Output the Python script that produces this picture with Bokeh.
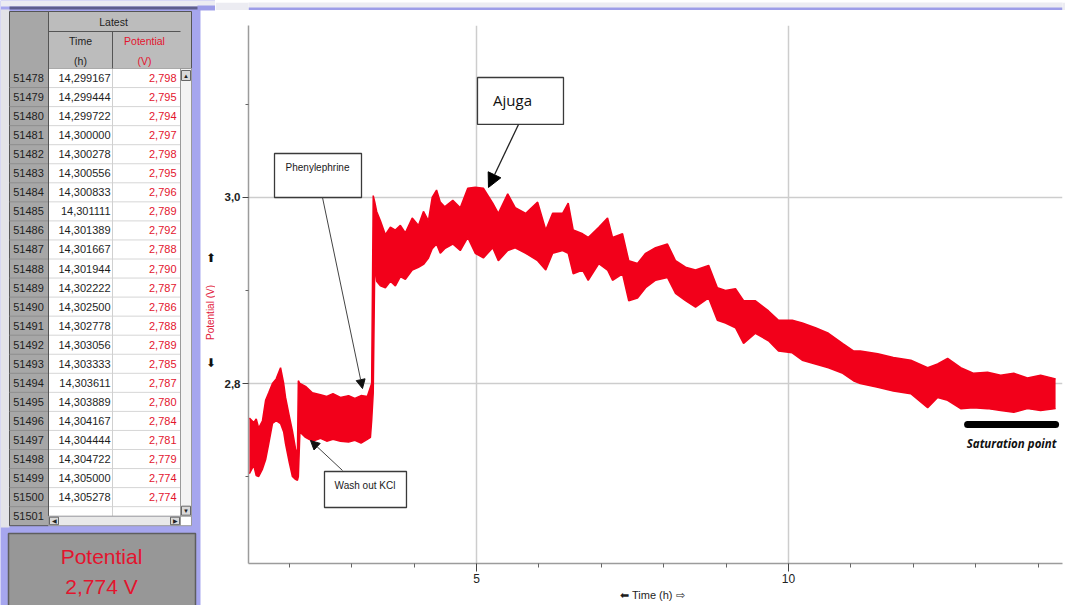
import math
from bokeh.plotting import figure
from bokeh.layouts import row, column
from bokeh.models import (Range1d, FixedTicker, Arrow, NormalHead,
                          ColumnDataSource, CustomJSTickFormatter)
from bokeh.core.properties import value
from bokeh.embed import file_html
from bokeh.resources import INLINE

# ---------------- data ----------------
# recorded potential trace: time (h), upper and lower envelope of the noisy signal (V)
time_h = [1.36, 1.43, 1.47, 1.51, 1.57, 1.62, 1.67, 1.73, 1.79, 1.86, 1.91, 1.94, 2.00,
          2.05, 2.10, 2.13, 2.145, 2.17, 2.26, 2.37, 2.50, 2.60, 2.70, 2.82, 2.95, 3.05,
          3.15, 3.25, 3.30, 3.32, 3.345, 3.37, 3.40, 3.46, 3.54, 3.62, 3.70, 3.78, 3.86,
          3.97, 4.07, 4.15, 4.23, 4.29, 4.36, 4.42, 4.49, 4.62, 4.74, 4.86, 4.98, 5.11,
          5.26, 5.35, 5.50, 5.62, 5.79, 5.98, 6.11, 6.22, 6.38, 6.47, 6.55, 6.70, 6.79,
          6.96, 7.10, 7.18, 7.34, 7.44, 7.58, 7.71, 7.87, 8.06, 8.19, 8.35, 8.51, 8.72,
          8.86, 8.99, 9.15, 9.28, 9.47, 9.68, 9.84, 10.06, 10.22, 10.43, 10.64, 10.87,
          11.04, 11.15, 11.43, 11.68, 11.96, 12.23, 12.39, 12.55, 12.76, 12.96, 13.19,
          13.40, 13.61, 13.83, 14.04, 14.28]
potential_hi = [2.763, 2.758, 2.762, 2.752, 2.760, 2.782, 2.790, 2.800, 2.805, 2.817, 2.800,
                2.785, 2.765, 2.749, 2.730, 2.722, 2.803, 2.800, 2.797, 2.790, 2.788, 2.786,
                2.789, 2.785, 2.787, 2.784, 2.787, 2.786, 2.796, 2.800, 3.002, 2.995, 2.985,
                2.975, 2.960, 2.968, 2.965, 2.970, 2.962, 2.978, 2.970, 2.985, 2.975, 3.000,
                3.008, 2.995, 2.990, 2.997, 2.989, 3.010, 3.011, 3.010, 2.994, 2.983, 3.004,
                2.989, 2.983, 2.995, 2.965, 2.983, 2.983, 2.994, 2.965, 2.961, 2.957, 2.968,
                2.978, 2.957, 2.961, 2.932, 2.929, 2.940, 2.946, 2.950, 2.932, 2.925, 2.922,
                2.927, 2.903, 2.900, 2.902, 2.889, 2.889, 2.878, 2.868, 2.868, 2.865, 2.860,
                2.854, 2.843, 2.835, 2.835, 2.832, 2.828, 2.825, 2.817, 2.821, 2.827, 2.817,
                2.811, 2.812, 2.809, 2.811, 2.806, 2.809, 2.805]
potential_lo = [2.703, 2.712, 2.701, 2.700, 2.708, 2.718, 2.735, 2.757, 2.760, 2.757, 2.748,
                2.735, 2.715, 2.700, 2.697, 2.696, 2.700, 2.748, 2.742, 2.738, 2.741, 2.738,
                2.740, 2.738, 2.737, 2.739, 2.736, 2.740, 2.742, 2.760, 2.790, 2.930, 2.910,
                2.905, 2.903, 2.910, 2.905, 2.915, 2.912, 2.922, 2.925, 2.928, 2.935, 2.945,
                2.950, 2.940, 2.945, 2.950, 2.943, 2.957, 2.940, 2.935, 2.946, 2.932, 2.943,
                2.946, 2.940, 2.932, 2.922, 2.940, 2.943, 2.940, 2.918, 2.922, 2.911, 2.929,
                2.922, 2.911, 2.918, 2.889, 2.892, 2.903, 2.911, 2.914, 2.897, 2.889, 2.882,
                2.892, 2.868, 2.865, 2.860, 2.843, 2.854, 2.846, 2.835, 2.833, 2.825, 2.821,
                2.817, 2.811, 2.803, 2.800, 2.796, 2.792, 2.789, 2.774, 2.785, 2.782, 2.773,
                2.774, 2.773, 2.771, 2.769, 2.773, 2.771, 2.773]

x_major_ticks = [5, 10]
x_minor_ticks = [2, 3, 4, 6, 7, 8, 9, 11, 12, 13, 14]
y_major_ticks = [2.8, 3.0]
y_minor_ticks = [2.7, 2.9, 3.1]

# "Latest" data table
row_ids = list(range(51478, 51502))
table_time = [14.299167, 14.299444, 14.299722, 14.300000, 14.300278, 14.300556, 14.300833,
              14.301111, 14.301389, 14.301667, 14.301944, 14.302222, 14.302500, 14.302778,
              14.303056, 14.303333, 14.303611, 14.303889, 14.304167, 14.304444, 14.304722,
              14.305000, 14.305278]
table_potential = [2.798, 2.795, 2.794, 2.797, 2.798, 2.795, 2.796, 2.789, 2.792, 2.788,
                   2.790, 2.787, 2.786, 2.788, 2.789, 2.785, 2.787, 2.780, 2.784, 2.781,
                   2.779, 2.774, 2.774]
current_potential = 2.774

notes = ["Phenylephrine", "Wash out KCl", "Ajuga"]
y_title = "Potential (V)"
saturation_span = [12.87, 14.28]
saturation_level = 2.756

RED = "#f2001a"
TXT_RED = "#e3142e"
FONT = "Liberation Sans"
LW = 215  # width of the left panel figure (table + y-axis title column)

# ---------------- left panel (table + meter + y title) ----------------
L = figure(width=LW, height=605, x_range=Range1d(0, LW), y_range=Range1d(605, 0),
           x_axis_location=None, y_axis_location=None, output_backend="svg",
           toolbar_location=None, min_border=0)
L.grid.visible = False
L.outline_line_color = None
L.background_fill_color = "#a6a6ee"
L.border_fill_color = "#a6a6ee"

L.quad(left=0, right=LW, top=0, bottom=6, fill_color="#ececf2", line_color=None)
L.quad(left=9, right=200, top=6, bottom=9, fill_color="#5e5e8c", line_color=None)
L.quad(left=197, right=LW, top=5, bottom=10, fill_color="#9d9de8", line_color=None)
L.quad(left=200, right=LW, top=10, bottom=605, fill_color="white", line_color=None)
L.quad(left=0, right=9, top=9, bottom=527, fill_color="#e3e3e8", line_color=None)

ROW0, RH = 68.0, 19.05
nrows = len(row_ids)
tbl_bottom = ROW0 + RH * nrows
L.quad(left=9, right=48, top=11, bottom=tbl_bottom, fill_color="#a7a7a7", line_color="#555555")
L.quad(left=48, right=191, top=11, bottom=ROW0, fill_color="#bcbcbc", line_color="#555555")
L.quad(left=48, right=180, top=ROW0, bottom=tbl_bottom - RH / 2, fill_color="white", line_color=None)
ys = [ROW0 + RH * (i + 1) for i in range(nrows - 1)]
L.segment(x0=[48] * len(ys), x1=[180] * len(ys), y0=ys, y1=ys, line_color="#d6d6d6", line_width=1)
L.segment(x0=[9] * len(ys), x1=[48] * len(ys), y0=ys, y1=ys, line_color="#8e8e8e", line_width=1)
L.segment(x0=[112], x1=[112], y0=[ROW0], y1=[tbl_bottom - RH / 2], line_color="#d0d0d0")
L.segment(x0=[48, 112, 48], x1=[180, 112, 48], y0=[31, 31, 11], y1=[31, ROW0, tbl_bottom],
          line_color="#555555", line_width=1)
L.quad(left=180, right=191, top=ROW0, bottom=tbl_bottom - RH / 2, fill_color="#f3f3f3", line_color="#9a9a9a")
L.quad(left=181, right=190, top=[70, tbl_bottom - RH / 2 - 10], bottom=[80, tbl_bottom - RH / 2 - 1],
       fill_color="#d9d9d9", line_color="#666666")
L.quad(left=48, right=180, top=tbl_bottom - RH / 2, bottom=tbl_bottom, fill_color="#e9e9e9", line_color="#9a9a9a")
L.quad(left=[49, 170], right=[58, 179], top=tbl_bottom - RH / 2 + 1, bottom=tbl_bottom - 1,
       fill_color="#d9d9d9", line_color="#666666")
L.quad(left=180, right=191, top=tbl_bottom - RH / 2, bottom=tbl_bottom, fill_color="white", line_color="#9a9a9a")
L.text(x=[185.5, 185.5, 53.5, 174.5], y=[75, tbl_bottom - RH / 2 - 5.5, tbl_bottom - RH / 4, tbl_bottom - RH / 4],
       text=["▲", "▼", "◀", "▶"], text_align="center", text_baseline="middle",
       text_font_size="6px", text_color="#222222")

centers = [ROW0 + RH * (i + 0.5) for i in range(nrows)]
L.text(x=[28] * nrows, y=centers, text=[str(r) for r in row_ids], text_align="center",
       text_baseline="middle", text_font=value(FONT), text_font_size="11px", text_color="#1e1e1e")
tsrc = ColumnDataSource(dict(
    y=centers[:len(table_time)],
    t=[f"{v:.6f}".replace(".", ",") for v in table_time],
    v=[f"{v:.3f}".replace(".", ",") for v in table_potential]))
L.text(x=110, y="y", text="t", source=tsrc, text_align="right", text_baseline="middle",
       text_font=value(FONT), text_font_size="11px", text_color="#1e1e1e")
L.text(x=176, y="y", text="v", source=tsrc, text_align="right", text_baseline="middle",
       text_font=value(FONT), text_font_size="11px", text_color=TXT_RED)
L.text(x=[113], y=[21.5], text=["Latest"], text_align="center", text_baseline="middle",
       text_font=value(FONT), text_font_size="10.5px", text_color="#1e1e1e")
L.text(x=[80, 80], y=[40, 60], text=["Time", "(h)"], text_align="center", text_baseline="middle",
       text_font=value(FONT), text_font_size="10.5px", text_color="#1e1e1e")
L.text(x=[144, 144], y=[40, 60], text=["Potential", "(V)"], text_align="center", text_baseline="middle",
       text_font=value(FONT), text_font_size="10.5px", text_color=TXT_RED)

L.quad(left=8, right=195, top=533, bottom=612, fill_color="#979797", line_color="#5e5e5e", line_width=1.5)
L.text(x=[101, 101], y=[556, 586],
       text=["Potential", f"{current_potential:.3f}".replace(".", ",") + " V"],
       text_align="center", text_baseline="middle", text_font=value(FONT),
       text_font_size="21px", text_color=TXT_RED)

# y-axis title of the chart with its little arrows
L.text(x=[210], y=[312], text=[y_title], angle=math.pi / 2, text_align="center",
       text_baseline="middle", text_font=value(FONT), text_font_size="10px", text_color="#e2203c")
L.text(x=[210, 210], y=[257, 362], text=["⬆", "⬇"], text_align="center", text_baseline="middle",
       text_font_size="12px", text_color="#111111")

# ---------------- top strip above the chart ----------------
CW = 1065 - LW
S = figure(width=CW, height=10, x_range=Range1d(0, CW), y_range=Range1d(10, 0),
           x_axis_location=None, y_axis_location=None, output_backend="svg",
           toolbar_location=None, min_border=0)
S.grid.visible = False
S.outline_line_color = None
S.background_fill_color = "#ececf2"
S.border_fill_color = "#ececf2"
S.quad(left=0, right=CW, top=5, bottom=10, fill_color="#9d9de8", line_color=None)

# ---------------- chart ----------------
p = figure(width=CW, height=595, x_range=Range1d(1.3462, 14.391), y_range=Range1d(2.6065, 3.1849),
           output_backend="svg", toolbar_location=None,
           min_border_left=248 - LW, min_border_right=3, min_border_top=15, min_border_bottom=42)
p.outline_line_color = None
p.background_fill_color = "white"
p.border_fill_color = "white"

xa = p.xaxis[0]
xa.ticker = FixedTicker(ticks=x_major_ticks, minor_ticks=x_minor_ticks)
ya = p.yaxis[0]
ya.ticker = FixedTicker(ticks=y_major_ticks, minor_ticks=y_minor_ticks)
ya.formatter = CustomJSTickFormatter(code="return tick.toFixed(1).replace('.', ',');")
for ax in (xa, ya):
    ax.axis_line_color = "#9c9c9c"
    ax.axis_line_width = 1.5
    ax.major_tick_line_color = "#444444"
    ax.major_tick_in = 0
    ax.minor_tick_line_color = "#666666"
    ax.minor_tick_in = 0
    ax.major_label_text_font = FONT
    ax.major_label_text_color = "#222222"
    ax.axis_label_text_font = FONT
    ax.axis_label_text_font_style = "normal"
xa.major_tick_out = 8
xa.minor_tick_out = 4
xa.major_label_text_font_size = "12px"
xa.major_label_standoff = 2
xa.axis_label = "⬅  Time (h)  ⇨"
xa.axis_label_text_font_size = "11px"
xa.axis_label_text_color = "#1e1e1e"
xa.axis_label_standoff = 3
ya.major_tick_out = 6
ya.minor_tick_out = 3
ya.major_label_text_font_size = "11.5px"
ya.major_label_text_font_style = "bold"
ya.major_label_standoff = 2

p.xgrid.grid_line_color = "#cdcdcd"
p.xgrid.grid_line_width = 1.5
p.ygrid.grid_line_color = "#cdcdcd"
p.ygrid.grid_line_width = 1.5

# signal
p.varea(x=time_h, y1=potential_lo, y2=potential_hi, fill_color=RED)
p.line(x=time_h, y=potential_hi, line_color=RED, line_width=1.5)
p.line(x=time_h, y=potential_lo, line_color=RED, line_width=1.5)

# annotation boxes
p.quad(left=[1.763, 2.564, 5.016], right=[3.157, 3.878, 6.394],
       top=[3.0473, 2.7054, 3.129], bottom=[3.0, 2.6667, 3.0785],
       fill_color="white", line_color="#3a3a3a", line_width=1.3)
p.text(x=[2.452, 3.213], y=[3.0323, 2.6903], text=notes[:2], text_align="center",
       text_baseline="middle", text_font=value(FONT), text_font_size="10px", text_color="#1a1a1a")
p.text(x=[5.577], y=[3.1043], text=notes[2:], text_align="center", text_baseline="middle",
       text_font=value("Open Sans"), text_font_size="15px", text_color="#111111")

p.add_layout(Arrow(end=NormalHead(size=9, fill_color="#111111", line_color="#111111"),
                   x_start=2.532, y_start=3.0, x_end=3.173, y_end=2.7946,
                   line_color="#444444", line_width=1))
p.add_layout(Arrow(end=NormalHead(size=9, fill_color="#111111", line_color="#111111"),
                   x_start=2.853, y_start=2.7065, x_end=2.340, y_end=2.7387,
                   line_color="#444444", line_width=1))
p.add_layout(Arrow(end=NormalHead(size=14, fill_color="#000000", line_color="#000000"),
                   x_start=5.673, y_start=3.0785, x_end=5.192, y_end=3.0108,
                   line_color="#222222", line_width=1.3))

p.line(x=saturation_span, y=[saturation_level] * 2, line_color="black", line_width=7, line_cap="round")
p.text(x=[sum(saturation_span) / 2], y=[2.7355], text=["Saturation point"], text_align="center",
       text_baseline="middle", text_font=value("Open Sans"), text_font_size="11.5px",
       text_font_style="bold italic", text_color="#111111")

layout = row(L, column(S, p, spacing=0), spacing=0)
open("out.html", "w").write(file_html(layout, INLINE))
